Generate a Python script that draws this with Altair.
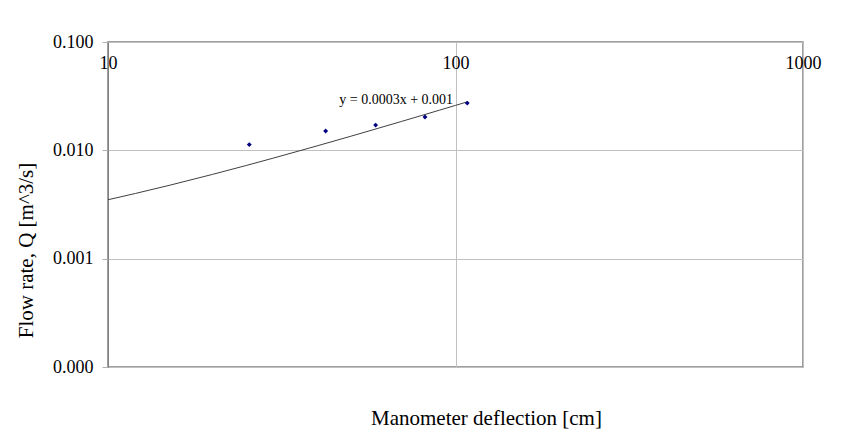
import altair as alt
import pandas as pd

# manometer deflection [cm] and flow rate [m^3/s]
deflection = [25.5, 42.3, 58.9, 81.7, 108.1]
flow_rate = [0.0113, 0.0151, 0.0171, 0.0203, 0.0273]

# Excel linear trendline as drawn (y = a*x + b)
trend_slope = 0.00025
trend_intercept = 0.001
trend_x = [10, 12, 15, 20, 25, 30, 40, 50, 60, 70, 80, 90, 100, 108]

x_ticks = [10, 100, 1000]
y_ticks = [0.0001, 0.001, 0.01, 0.1]

serif = "Liberation Serif"

pts_df = pd.DataFrame({"x": deflection, "y": flow_rate})
trend_df = pd.DataFrame({"x": trend_x})
label_df = pd.DataFrame({"x": [67.5], "y": [0.029], "t": ["y = 0.0003x + 0.001"]})

x_scale = alt.Scale(type="log", domain=[10, 1000])
y_scale = alt.Scale(type="log", domain=[0.0001, 0.1])

x_axis = alt.Axis(orient="top", values=x_ticks, format="d", title=None,
                  ticks=False, domain=False, labelPadding=-12, labelBaseline="top",
                  labelFont=serif, labelFontSize=18, labelColor="black",
                  grid=True, gridColor="#c0c0c0", labelFlush=False)
y_axis = alt.Axis(values=y_ticks, format=".3f", title="Flow rate, Q [m^3/s]",
                  tickSize=6, tickColor="#b0b0b0", domainColor="#808080",
                  labelPadding=9, labelFont=serif, labelFontSize=18, labelColor="black",
                  titleFont=serif, titleFontSize=21, titleFontWeight="normal",
                  titleColor="black", titlePadding=16, titleY=208,
                  grid=True, gridColor="#c0c0c0")

trend = alt.Chart(trend_df).mark_line(color="#404040", strokeWidth=1).transform_calculate(
    y=f"{trend_slope} * datum.x + {trend_intercept}"
).encode(
    x=alt.X("x:Q", scale=x_scale, axis=x_axis),
    y=alt.Y("y:Q", scale=y_scale, axis=y_axis),
)

points = alt.Chart(pts_df).mark_point(shape="diamond", filled=True, size=24,
                                      color="#000080", opacity=1).encode(
    x=alt.X("x:Q", scale=x_scale),
    y=alt.Y("y:Q", scale=y_scale),
)

label = alt.Chart(label_df).mark_text(font=serif, fontSize=14, color="black").encode(
    x=alt.X("x:Q", scale=x_scale),
    y=alt.Y("y:Q", scale=y_scale),
    text="t:N",
)

chart = (trend + points + label).properties(
    width=695, height=325,
    autosize=alt.AutoSizeParams(type="none"),
    padding={"left": 100, "top": 34, "right": 32, "bottom": 64},
    title=alt.TitleParams("Manometer deflection [cm]", orient="bottom", offset=32,
                          dx=31, font=serif, fontSize=21, fontWeight="normal",
                          color="black"),
).configure_view(stroke="#808080", strokeWidth=1.5)

chart.save("out.html", embed_options={"renderer": "svg", "actions": False})
